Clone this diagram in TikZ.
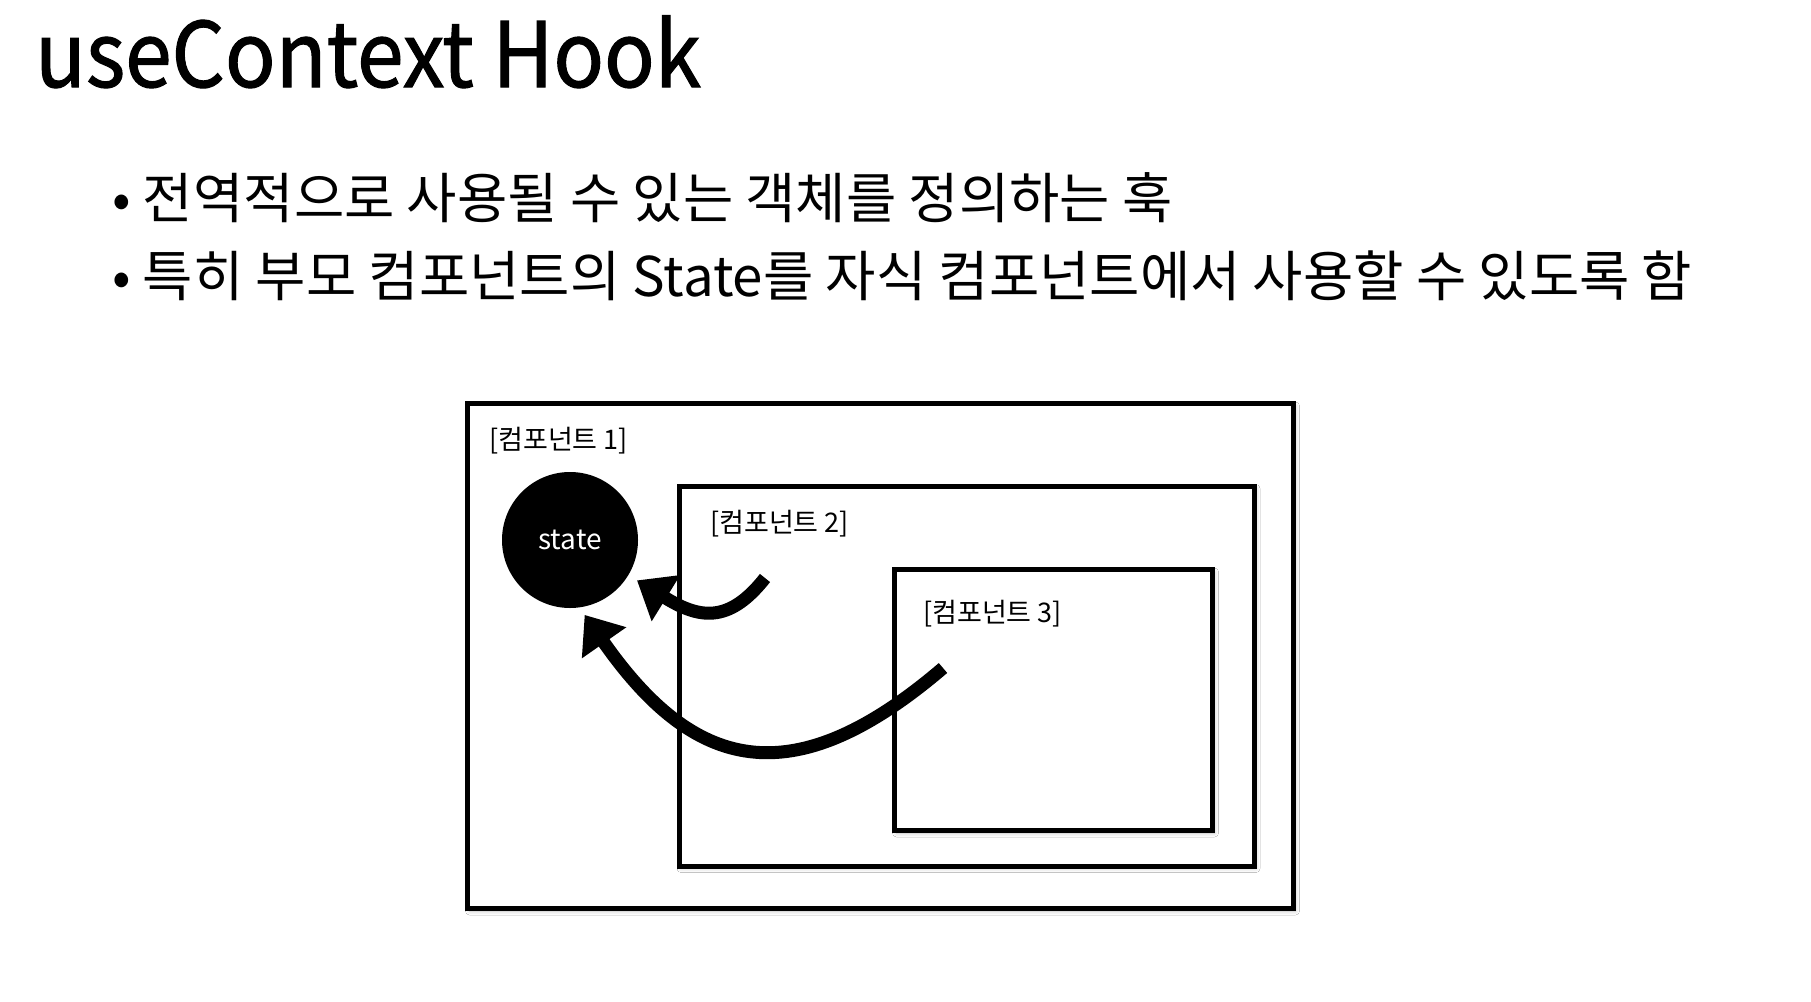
\documentclass[tikz,border=0pt]{standalone}
\usepackage{fontspec}
\setmainfont{Noto Sans CJK KR}
\newfontfamily\titlefont[FakeStretch=0.93, FakeBold=1.2]{Noto Sans CJK KR}
\usetikzlibrary{arrows.meta,positioning,shadows.blur}

\begin{document}
\begin{tikzpicture}[
    x=1pt, y=-1pt,
    compbox/.style={
        rectangle,
        draw=black,
        fill=white,
        line width=5pt,
        inner sep=0pt,
        blur shadow={shadow xshift=2pt, shadow yshift=-2.5pt, shadow blur radius=4pt, shadow opacity=25}
    },
    complabel/.style={anchor=west, inner sep=0pt, font=\fontsize{27}{32}\selectfont},
    bullettext/.style={anchor=base west, inner sep=0pt, font=\fontsize{54.7}{66}\selectfont},
    flow/.style={-{Triangle[length=34pt,width=52pt]}, line width=13pt, black}
]
    % Page
    \useasboundingbox[fill=white] (0,0) rectangle (1811,1001);

    % Title and bullets
    \node[anchor=base west, inner sep=0pt, font=\titlefont\fontsize{90}{100}\selectfont] (title) at (35,87) {useContext Hook};
    \node[bullettext] (item1) at (112,218) {• 전역적으로 사용될 수 있는 객체를 정의하는 훅};
    \node[bullettext] (item2) at (112,296) {• 특히 부모 컴포넌트의 State를 자식 컴포넌트에서 사용할 수 있도록 함};

    % Components
    \node[compbox, minimum width=826pt, minimum height=505pt] (comp1) at (880.5,656) {};
    \node[compbox, minimum width=575pt, minimum height=380pt] (comp2) at (966.5,676) {};
    \node[compbox, minimum width=318pt, minimum height=261pt] (comp3) at (1053.5,700) {};

    % Labels
    \node[complabel] (label1) at (489,441) {[컴포넌트 1]};
    \node[complabel] (label2) at (710,524) {[컴포넌트 2]};
    \node[complabel] (label3) at (923,614) {[컴포넌트 3]};

    % State
    \node[circle, fill=black, minimum size=136pt, inner sep=0pt, text=white, font=\fontsize{28}{33}\selectfont] (state) at (570,540) {state};

    % Arrows
    \coordinate (src2) at (765,578);
    \coordinate (src3) at (943,668);
    \draw[flow, shorten >=10pt] (src2) .. controls (728,625) and (698,618) .. (state.-31);
    \draw[flow, shorten >=9pt] (src3) .. controls (791,798) and (693,770) .. (state.-82);
\end{tikzpicture}
\end{document}
